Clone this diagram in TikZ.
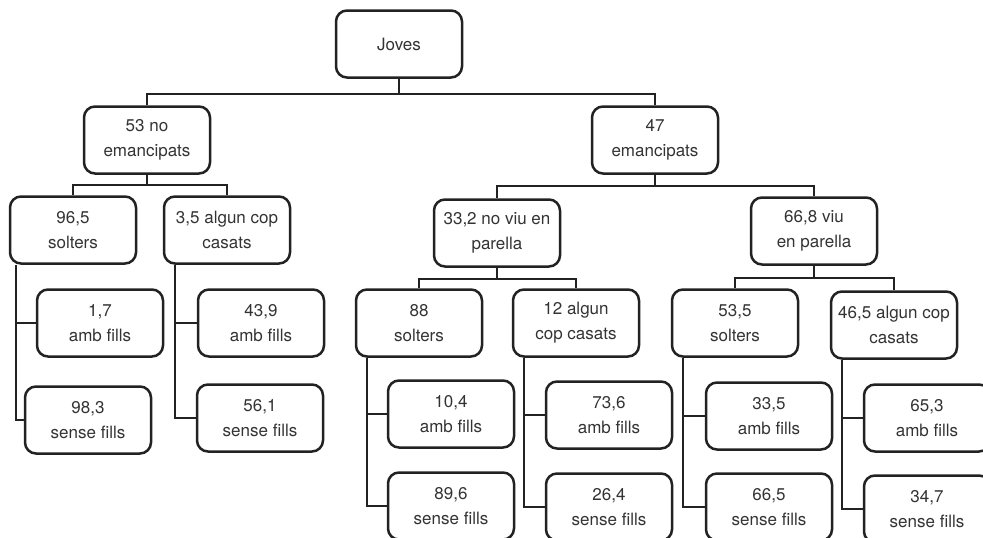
\documentclass[tikz,border=0pt]{standalone}
\usepackage{fontspec}
\setmainfont{TeX Gyre Heros}
\definecolor{txtgray}{HTML}{333333}
\definecolor{linegray}{HTML}{222222}

\begin{document}
\begin{tikzpicture}[x=1pt,y=-1pt,
	every node/.style={font=\fontsize{17}{25}\selectfont,text=txtgray},
	box/.style={draw=linegray,line width=2.5pt,rounded corners=11pt,
		minimum width=126pt,minimum height=67pt,align=center,inner sep=2pt},
	link/.style={draw=linegray,line width=2.5pt}
	]
	\useasboundingbox (0,0) rectangle (983,538);
	
	%top levels
	\node[box] (joves) at (399,44) {Joves};
	\node[box] (noem) at (147,140) {53 no\\emancipats};
	\node[box] (em) at (655,140) {47\\emancipats};
	
	%no emancipats
	\node[box] (solt1) at (73,230) {96,5\\solters};
	\node[box] (casat1) at (227,230) {3,5 algun cop\\casats};
	\node[box] (amb1) at (100,323) {1,7\\amb fills};
	\node[box] (sense1) at (88,420) {98,3\\sense fills};
	\node[box] (amb2) at (261,323) {43,9\\amb fills};
	\node[box] (sense2) at (260,418) {56,1\\sense fills};
	
	%emancipats
	\node[box] (nviu) at (497,233) {33,2 no viu en\\parella};
	\node[box] (viu) at (814,231) {66,8 viu\\en parella};
	\node[box] (solt2) at (419,323) {88\\solters};
	\node[box] (casat2) at (576,323) {12 algun\\cop casats};
	\node[box] (solt3) at (735,323) {53,5\\solters};
	\node[box] (casat3) at (894,325) {46,5 algun cop\\casats};
	\node[box] (amb3) at (451,414) {10,4\\amb fills};
	\node[box] (sense3) at (451,506) {89,6\\sense fills};
	\node[box] (amb4) at (609,415) {73,6\\amb fills};
	\node[box] (sense4) at (609,507) {26,4\\sense fills};
	\node[box] (amb5) at (769,416) {33,5\\amb fills};
	\node[box] (sense5) at (769,507) {66,5\\sense fills};
	\node[box] (amb6) at (927,418) {65,3\\amb fills};
	\node[box] (sense6) at (927,509) {34,7\\sense fills};
	
	%forks: parent to two children
	\draw[link] (joves.south) -- ++(0,15) coordinate (fj);
	\draw[link] (noem.north) |- (fj) -| (em.north);
	\draw[link] (noem.south) -- ++(0,10) coordinate (fn);
	\draw[link] (solt1.north) |- (fn) -| (casat1.north);
	\draw[link] (em.south) -- ++(0,11) coordinate (fe);
	\draw[link] (nviu.north) |- (fe) -| (viu.north);
	\draw[link] (nviu.south) -- ++(0,11) coordinate (fnv);
	\draw[link] (solt2.north) |- (fnv) -| (casat2.north);
	\draw[link] (viu.south) -- ++(0,12) coordinate (fv);
	\draw[link] (solt3.north) |- (fv) -| (casat3.north);
	
	%side branches to amb / sense fills
	\draw[link] ([xshift=7pt]solt1.south west) |- (amb1.west);
	\draw[link] ([xshift=7pt]solt1.south west) |- (sense1.west);
	\foreach \p/\a/\s in {casat1/amb2/sense2,solt2/amb3/sense3,casat2/amb4/sense4,solt3/amb5/sense5,casat3/amb6/sense6}{
		\draw[link] ([xshift=12pt]\p.south west) |- (\a.west);
		\draw[link] ([xshift=12pt]\p.south west) |- (\s.west);
	}
	
\end{tikzpicture}
\end{document}
